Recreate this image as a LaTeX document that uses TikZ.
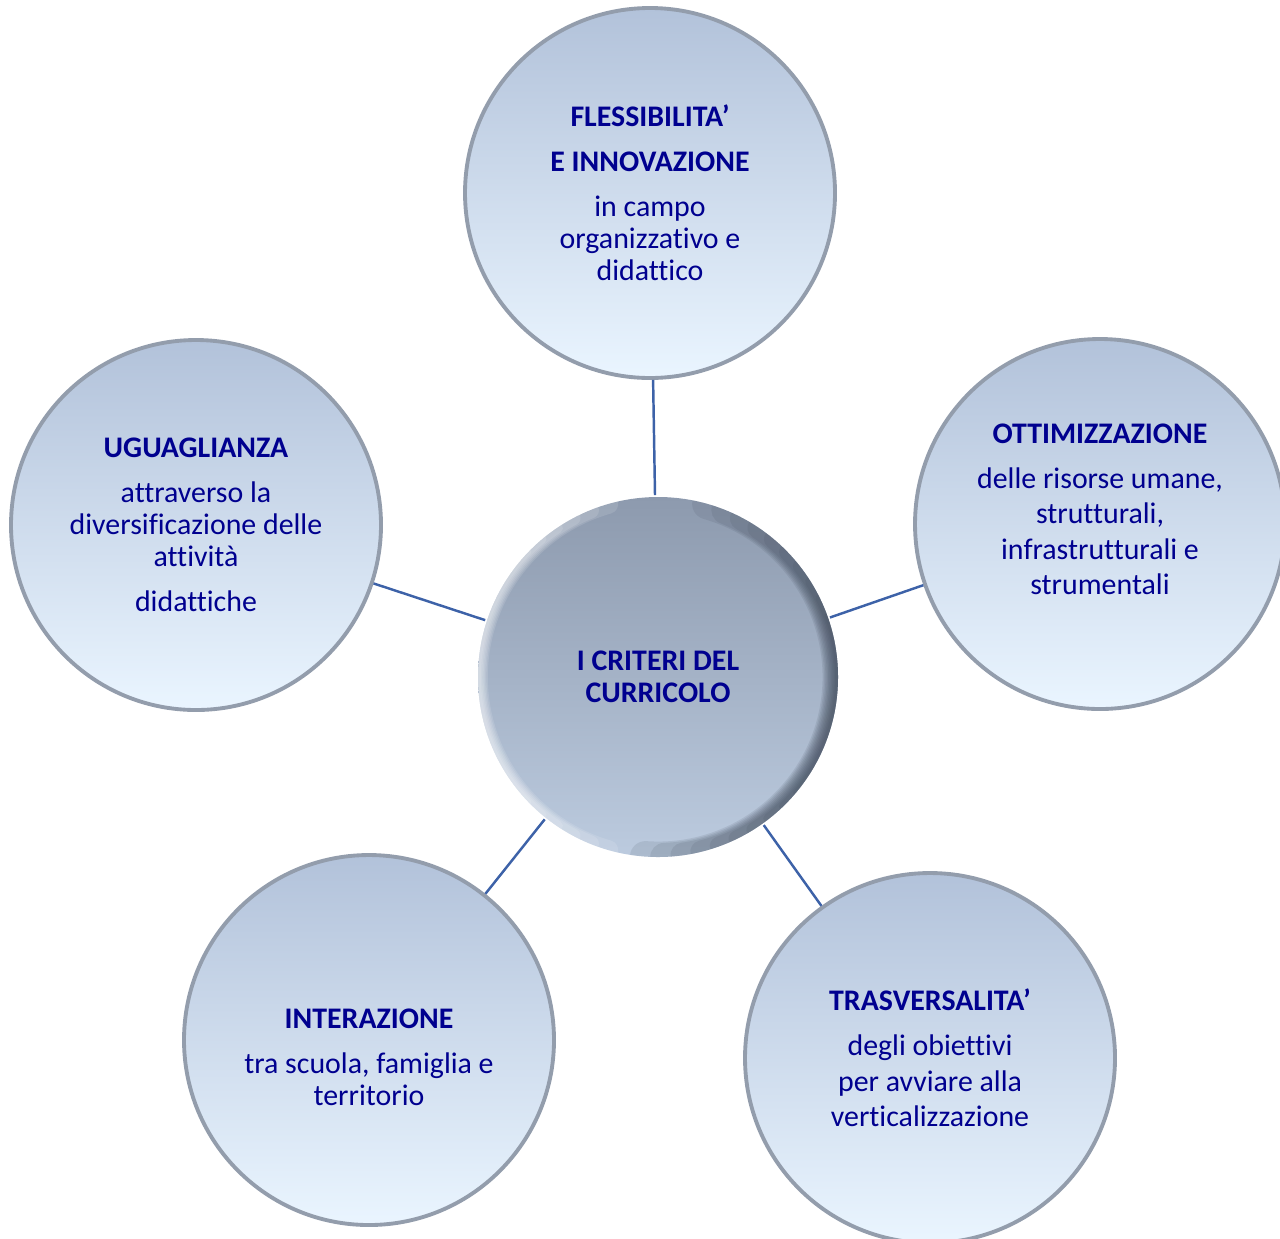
\documentclass[tikz,border=0pt]{standalone}
\usepackage{fontspec}
\setmainfont{Carlito}[Ligatures=NoCommon]
\usepackage{tikz}
\usetikzlibrary{positioning}
\definecolor{txtblue}{HTML}{00008F}
\definecolor{connblue}{HTML}{3D62A8}
\definecolor{rimgray}{HTML}{939DAC}
\definecolor{bubtop}{HTML}{B2C2DA}
\definecolor{bubbot}{HTML}{EAF5FF}
\definecolor{crittop}{HTML}{8D9AAE}
\definecolor{critbot}{HTML}{BCCBDF}
\definecolor{critrim}{HTML}{3E4858}

\begin{document}
\begin{tikzpicture}[
    font=\fontsize{8.5}{9.1}\selectfont,
    text=txtblue,
    bubble/.style={
		circle,
		minimum size=3.7cm,
		inner sep=0pt,
		draw=rimgray,
		line width=1.1pt,
		top color=bubtop,
		bottom color=bubbot,
		align=center
	},
	hub/.style={
		bubble,
		minimum size=3.6cm,
		draw=none,
		top color=crittop,
		bottom color=critbot,
		path picture={
		  \coordinate (hc) at (path picture bounding box.center);
		  % soft light edge on the left, dark edge on the right
		  \foreach \k in {1,...,6}
		    \draw [white, opacity=0.12, line width={(8-\k)*0.8pt}, line cap=round]
		      (hc) ++(100+6*\k:1.8cm) arc (100+6*\k:260-6*\k:1.8cm);
		  \foreach \k in {1,...,10}
		    \draw [critrim, opacity=0.12, line width={(12-\k)*0.8pt}, line cap=round]
		      (hc) ++(-100+6*\k:1.8cm) arc (-100+6*\k:80-6*\k:1.8cm);
		}
	},
	link/.style={
		draw=connblue,
		line width=0.7pt
	}
  ]
  \useasboundingbox (0,0) rectangle (12.8,-12.38);

    % We start by placing the blocks

  \node [hub] (crit) at (6.58,-6.77)
 {%
  \textbf{I CRITERI DEL}\\
  \textbf{CURRICOLO}
 };

  \node [bubble, above of=crit, node distance=4.84cm, xshift=-0.08cm] (flex)
 {%
  \textbf{FLESSIBILITA’}\\[3.7pt]
  \textbf{E INNOVAZIONE}\\[3.7pt]
  in campo\\
  organizzativo e\\
  didattico
 };

  \node [bubble, left of=crit, node distance=4.62cm, yshift=1.52cm] (ugu)
 {%
  \textbf{UGUAGLIANZA}\\[3.7pt]
  attraverso la\\
  diversificazione delle\\
  attività\\[3.7pt]
  didattiche
 };

  \node [bubble, right of=crit, node distance=4.42cm, yshift=1.53cm] (ott)
 {%
  \textbf{OTTIMIZZAZIONE}\\[3.7pt]
  delle risorse umane,\\[1pt]
  strutturali,\\[1pt]
  infrastrutturali e\\[1pt]
  strumentali\rule[-0.3cm]{0pt}{0.3cm}
 };

  \node [bubble, below of=crit, node distance=3.63cm, xshift=-2.89cm] (inter)
 {%
  \rule{0pt}{0.55cm}\textbf{INTERAZIONE}\\[3.7pt]
  tra scuola, famiglia e\\
  territorio
 };

  \node [bubble, below of=crit, node distance=3.81cm, xshift=2.72cm] (trasv)
 {%
  \textbf{TRASVERSALITA’}\\[3.7pt]
  degli obiettivi\\[1pt]
  per avviare alla\\[1pt]
  verticalizzazione
 };

 % connectors from the hub
 \draw [link] (crit) -- (flex);
 \draw [link] (crit) -- (ugu);
 \draw [link] (crit) -- (ott);
 \draw [link] (crit) -- (inter);
 \draw [link] (crit) -- (trasv);

\end{tikzpicture}
\end{document}
